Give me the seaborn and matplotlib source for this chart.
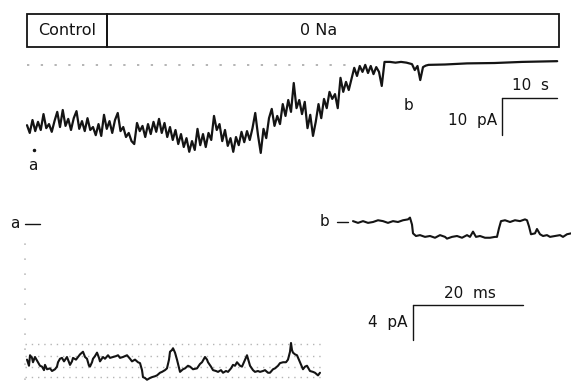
import numpy as np
import pandas as pd
import matplotlib
matplotlib.use("Agg")
import matplotlib.pyplot as plt
import seaborn as sns

# ---------------- data ----------------
# Top trace: whole-cell current (pA, relative to dotted baseline) vs time (s)
top_t_dense = np.arange(0, 65.01, 0.5)
top_i_dense = [
    -16.4, -18.5, -15.0, -18.0, -15.5, -17.7, -13.4, -17.2, -16.1, -18.2,
    -15.3, -12.8, -16.9, -12.3, -16.6, -14.7, -17.7, -14.5, -12.6, -17.4,
    -15.3, -18.0, -14.5, -17.7, -16.9, -19.1, -16.1, -19.3, -13.6, -17.4,
    -15.3, -18.5, -15.0, -13.1, -18.0, -16.9, -19.6, -18.5, -20.7, -21.5,
    -15.8, -18.0, -16.6, -19.6, -16.1, -18.8, -15.5, -18.2, -14.7, -18.5,
    -15.8, -19.6, -16.9, -20.4, -17.7, -21.5, -18.8, -22.3, -19.9, -23.6,
    -20.7, -23.1, -17.4, -21.8, -18.8, -22.3, -18.5, -20.4, -13.9, -17.7,
    -16.1, -20.7, -17.7, -22.0, -19.9, -23.6, -19.6, -21.8, -18.2, -21.0,
    -18.0, -20.4, -17.2, -13.1, -19.1, -23.9, -17.4, -19.9, -14.5, -12.0,
    -16.6, -13.9, -16.1, -10.7, -13.9, -9.6, -12.8, -5.0, -11.8, -9.6,
    -13.4, -10.1, -17.2, -13.6, -19.3, -15.5, -10.7, -14.5, -9.3, -11.8,
    -7.4, -9.3, -8.0, -11.8, -3.6, -7.4, -4.7, -6.9, -3.9, -0.9,
    -3.1, -0.4, -2.0, -0.1, -2.3, -0.4, -2.6, -0.7, -2.0, -5.8,
    0.7,
]
top_t_quiet = [66, 67, 68, 69, 70, 70.5, 71, 71.5, 72, 72.5, 73, 76, 80, 85, 90, 96.4]
top_i_quiet = [0.7, 0.5, 0.7, 0.5, 0.1, -1.5, -0.4, -4.2, -0.7, -0.3, -0.1, 0.0, 0.3, 0.4, 0.7, 0.9]

# Solution periods (s)
period_names = ["Control", "0 Na"]
period_start = [0.0, 14.5]
period_end = [14.5, 96.7]

# Trace a: single-channel current (pA) vs time (ms)
a_t = [0, 0.36, 0.55, 0.91, 1.09, 1.45, 2.0, 2.36, 2.73, 3.09, 3.27, 3.64, 4.18, 4.55,
       5.09, 5.45, 5.64, 6.0, 6.36, 6.73, 7.27, 7.64, 7.82, 8.18, 8.36, 8.91, 9.27, 9.64,
       10.18, 10.55, 10.91, 11.27, 11.45, 11.82, 12.0, 12.36, 12.73, 13.09, 13.27, 13.82,
       14.18, 14.73, 15.09, 15.64, 16.18, 16.55, 16.91, 17.45, 17.82, 18.18, 18.73, 19.09,
       19.64, 20.18, 20.55, 20.91, 21.09, 21.45, 21.82, 22.36, 22.73, 23.27, 23.64, 24.18,
       24.55, 25.09, 25.45, 25.82, 26.0, 26.36, 26.55, 26.91, 27.27, 27.82, 28.36, 28.73,
       29.27, 29.64, 30.18, 30.91, 31.45, 31.82, 32.36, 32.73, 32.91, 33.45, 33.82, 34.36,
       34.73, 35.27, 35.64, 36.18, 36.55, 37.09, 37.45, 37.82, 38.18, 38.73, 39.09, 39.64,
       40.0, 40.36, 40.55, 41.09, 41.45, 42.0, 42.36, 42.91, 43.27, 43.82, 44.18, 44.73,
       45.09, 45.64, 46.0, 46.55, 47.09, 47.45, 47.82, 48.0, 48.18, 48.36, 48.73, 49.09,
       49.64, 50.18, 50.55, 50.91, 51.45, 52.0, 52.36, 52.91, 53.27]
a_i = [-15.5, -16.2, -15.0, -15.3, -15.8, -15.2, -15.8, -16.2, -16.3, -16.7, -16.1, -16.6,
       -16.5, -16.8, -16.6, -16.3, -15.8, -15.4, -15.3, -15.7, -15.2, -15.8, -16.1, -15.7,
       -15.3, -15.5, -15.2, -14.9, -14.6, -15.2, -15.4, -16.2, -16.3, -15.8, -15.4, -15.1,
       -14.7, -15.3, -15.7, -15.2, -15.4, -15.0, -15.3, -15.2, -15.1, -15.0, -15.3, -15.2,
       -15.1, -15.0, -15.4, -15.7, -15.5, -15.8, -15.9, -16.7, -17.5, -17.6, -17.8, -17.6,
       -17.5, -17.4, -17.3, -17.0, -16.9, -16.7, -16.5, -15.5, -14.6, -14.4, -14.2, -14.7,
       -15.5, -16.9, -16.6, -16.5, -16.2, -16.3, -16.6, -16.5, -16.0, -15.8, -15.2, -15.5,
       -15.8, -16.3, -16.7, -16.8, -16.9, -16.7, -17.0, -16.8, -16.9, -16.5, -16.1, -16.2,
       -15.8, -16.2, -16.3, -15.5, -15.0, -15.8, -16.2, -16.7, -16.9, -16.8, -16.9, -16.8,
       -16.7, -17.0, -17.0, -16.6, -16.5, -16.2, -15.9, -15.8, -15.8, -15.5, -14.6, -13.6,
       -14.4, -14.7, -14.9, -15.0, -15.8, -16.6, -16.3, -16.2, -16.8, -16.9, -17.0, -17.3,
       -17.0]
a_grid_levels = [-13.7, -15.1, -16.3, -17.5]

# Trace b: single-channel current (pA) vs time (ms)
b_t = [0, 0.91, 1.82, 2.73, 3.64, 4.55, 5.45, 6.36, 7.27, 8.18, 9.09, 10.0, 10.36, 10.73,
       10.91, 11.45, 12.18, 13.09, 14.0, 14.91, 15.82, 16.73, 17.09, 18.0, 18.91, 19.82,
       20.73, 21.27, 21.82, 22.36, 23.09, 24.0, 24.91, 25.82, 26.18, 26.55, 26.91, 27.64,
       28.55, 29.45, 30.36, 31.27, 31.64, 32.0, 32.36, 33.09, 33.45, 34.0, 34.55, 35.27,
       35.82, 36.73, 37.64, 38.18, 38.91, 39.64]
b_i = [0.1, -0.1, 0.1, -0.1, 0.0, 0.2, 0.1, -0.1, 0.1, 0.0, 0.2, 0.3, 0.5, -0.3,
       -1.3, -1.6, -1.5, -1.7, -1.6, -1.8, -1.5, -1.7, -1.9, -1.7, -1.6, -1.8,
       -1.5, -1.7, -1.1, -1.7, -1.6, -1.8, -1.8, -1.7, -1.7, -0.7, 0.1, 0.2,
       0.0, 0.2, 0.1, 0.3, 0.2, -0.5, -1.4, -1.3, -0.8, -1.4, -1.6, -1.5,
       -1.7, -1.6, -1.5, -1.7, -1.4, -1.3]

# ---------------- layout ----------------
W, H = 571, 382
sns.set_theme(style="white")
plt.rcParams["font.family"] = ["DejaVu Sans"]
fig = plt.figure(figsize=(W / 100, H / 100), dpi=100)
fig.patch.set_facecolor("white")


def unit_axes(x0, y0, sx, sy):
    """Full-figure axes whose data origin sits at pixel (x0, y0), sx px/unit in x, sy px/unit in y."""
    ax = fig.add_axes([0, 0, 1, 1])
    ax.set_xlim(-x0 / sx, (W - x0) / sx)
    ax.set_ylim((y0 - H) / sy, y0 / sy)
    ax.axis("off")
    ax.patch.set_alpha(0)
    return ax


ink = "#141414"
fs = 11.5

# ---- top panel (s, pA) ----
ax_top = unit_axes(27, 64.5, 5.5, 3.7)
top_df = pd.DataFrame({"t": list(top_t_dense) + top_t_quiet,
                       "i": top_i_dense + top_i_quiet})
sns.lineplot(data=top_df, x="t", y="i", ax=ax_top, color=ink, lw=1.6,
             estimator=None, sort=False, legend=False)
ax_top.hlines(0, 0, 59, colors="#a0a0a0", linestyles=(0, (1.5, 7.5)), lw=1.1)

# solution bar
y_lo, y_hi = 4.73, 13.65
for name, s, e in zip(period_names, period_start, period_end):
    ax_top.add_patch(plt.Rectangle((s, y_lo), e - s, y_hi - y_lo, fill=False,
                                   ec=ink, lw=1.3))
ax_top.text(7.3, 9.1, period_names[0], ha="center", va="center", fontsize=fs, color=ink)
ax_top.text(53.1, 9.1, period_names[1], ha="center", va="center", fontsize=fs, color=ink)

# scale bar 10 s / 10 pA
cx, cy = 86.36, -9.05
ax_top.plot([cx, cx + 10], [cy, cy], color=ink, lw=1.0)
ax_top.plot([cx, cx], [cy, cy - 10], color=ink, lw=1.0)
ax_top.text(cx + 5.2, cy + 3.3, "10  s", ha="center", va="center", fontsize=fs - 0.5, color=ink)
ax_top.text(cx - 0.9, cy - 6.0, "10  pA", ha="right", va="center", fontsize=fs - 0.5, color=ink)
ax_top.text(1.1, -27.3, "a", ha="center", va="center", fontsize=fs - 0.5, color=ink)
ax_top.plot([1.25], [-23.2], marker="o", ms=1.5, color=ink)
ax_top.text(69.3, -11.0, "b", ha="center", va="center", fontsize=fs - 0.5, color=ink)

# ---- bottom-left: trace a (ms, pA) ----
ax_a = unit_axes(27, 224, 5.5, 8.75)
for lv in a_grid_levels:
    ax_a.hlines(lv, -0.4, 53.8, colors="#b5b5b5", linestyles=(0, (1, 3.5)), lw=1.0)
ax_a.vlines(-0.36, -17.8, -1.5, colors="#c0c0c0", linestyles=(0, (1, 8)), lw=1.2)
sns.lineplot(x=a_t, y=a_i, ax=ax_a, color=ink, lw=1.5, estimator=None, sort=False)
ax_a.text(-2.2, 0.0, "a", ha="center", va="center", fontsize=fs - 0.5, color=ink)
ax_a.plot([-0.36, 2.36], [0, 0], color=ink, lw=1.0)

# ---- bottom-right: trace b (ms, pA) ----
ax_b = unit_axes(353, 222, 5.5, 8.75)
sns.lineplot(x=b_t, y=b_i, ax=ax_b, color=ink, lw=1.5, estimator=None, sort=False)
ax_b.text(-5.1, 0.0, "b", ha="center", va="center", fontsize=fs - 0.5, color=ink)
ax_b.plot([-2.9, -0.9], [0, 0], color=ink, lw=1.0)
bx, by = 10.9, -9.49
ax_b.plot([bx, bx + 20], [by, by], color=ink, lw=1.0)
ax_b.plot([bx, bx], [by, by - 4], color=ink, lw=1.0)
ax_b.text(bx + 10.3, by + 1.35, "20  ms", ha="center", va="center", fontsize=fs - 0.5, color=ink)
ax_b.text(bx - 1.0, by - 2.05, "4  pA", ha="right", va="center", fontsize=fs - 0.5, color=ink)

fig.savefig("out.png", dpi=100, facecolor="white")
